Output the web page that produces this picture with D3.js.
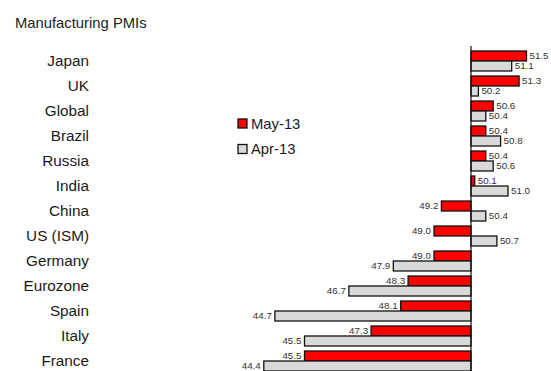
<!DOCTYPE html>
<html>
<head>
<meta charset="utf-8">
<script src="https://cdn.jsdelivr.net/npm/d3@7"></script>
<style>
  body { margin: 0; background: #fff; }
  text { font-family: "Liberation Sans", Arial, sans-serif; }
</style>
</head>
<body>
<script>
const countries = ['Japan', 'UK', 'Global', 'Brazil', 'Russia', 'India', 'China', 'US (ISM)', 'Germany', 'Eurozone', 'Spain', 'Italy', 'France'];
const may13 = [51.5, 51.3, 50.6, 50.4, 50.4, 50.1, 49.2, 49.0, 49.0, 48.3, 48.1, 47.3, 45.5];
const apr13 = [51.1, 50.2, 50.4, 50.8, 50.6, 51.0, 50.4, 50.7, 47.9, 46.7, 44.7, 45.5, 44.4];
const seriesNames = ['May-13', 'Apr-13'];
const seriesColors = ['#ff0000', '#d9d9d9'];

const width = 551, height = 371, base = 50;

const svg = d3.select('body')
  .append('svg')
  .attr('width', width)
  .attr('height', height);

svg.append('text')
  .text('Manufacturing PMIs')
  .attr('x', 15)
  .attr('y', 27.5)
  .attr('font-size', 14.8)
  .attr('fill', '#222');

const xScale = d3.scaleLinear()
  .domain([44, 52])
  .range([249, 545]);

const yScale = d3.scaleBand()
  .domain(countries)
  .range([48.5, 373.5])
  .paddingInner(0.2)
  .paddingOuter(0.1);

const inner = d3.scaleBand()
  .domain([0, 1])
  .range([0, yScale.bandwidth()]);

// category labels
svg.append('g')
  .selectAll('text')
  .data(countries)
  .enter()
  .append('text')
  .text((d) => d)
  .attr('x', 89)
  .attr('y', (d) => yScale(d) + yScale.bandwidth() / 2)
  .attr('dy', '0.35em')
  .attr('text-anchor', 'end')
  .attr('font-size', 15.3)
  .attr('fill', '#1a1a1a');

const rows = [];
countries.forEach((c, i) => {
  rows.push({ c: c, s: 0, v: may13[i] });
  rows.push({ c: c, s: 1, v: apr13[i] });
});

svg.append('g')
  .selectAll('rect')
  .data(rows)
  .enter()
  .append('rect')
  .attr('x', (d) => xScale(Math.min(d.v, base)))
  .attr('y', (d) => yScale(d.c) + inner(d.s))
  .attr('width', (d) => Math.max(Math.abs(xScale(d.v) - xScale(base)), 1))
  .attr('height', inner.bandwidth())
  .attr('fill', (d) => seriesColors[d.s])
  .attr('stroke', '#111')
  .attr('stroke-width', 1.3);

svg.append('g')
  .selectAll('text')
  .data(rows)
  .enter()
  .append('text')
  .text((d) => d.v.toFixed(1))
  .attr('x', (d) => d.v >= base ? xScale(d.v) + 3 : xScale(d.v) - 3)
  .attr('y', (d) => yScale(d.c) + inner(d.s) + inner.bandwidth() / 2)
  .attr('dy', '0.35em')
  .attr('text-anchor', (d) => d.v >= base ? 'start' : 'end')
  .attr('font-size', 9.8)
  .attr('fill', '#333');

// axis line at 50
svg.append('line')
  .attr('x1', xScale(base))
  .attr('x2', xScale(base))
  .attr('y1', 46)
  .attr('y2', height)
  .attr('stroke', '#111')
  .attr('stroke-width', 1.2);

// legend
const legend = svg.append('g')
  .selectAll('g')
  .data(seriesNames)
  .enter()
  .append('g')
  .attr('transform', (d, i) => 'translate(238,' + (119 + i * 25.5) + ')');

legend.append('rect')
  .attr('width', 9)
  .attr('height', 9)
  .attr('fill', (d, i) => seriesColors[i])
  .attr('stroke', '#111')
  .attr('stroke-width', 1.3);

legend.append('text')
  .text((d) => d)
  .attr('x', 13)
  .attr('y', 4.5)
  .attr('dy', '0.35em')
  .attr('font-size', 14.8)
  .attr('fill', '#1a1a1a');
</script>
</body>
</html>
